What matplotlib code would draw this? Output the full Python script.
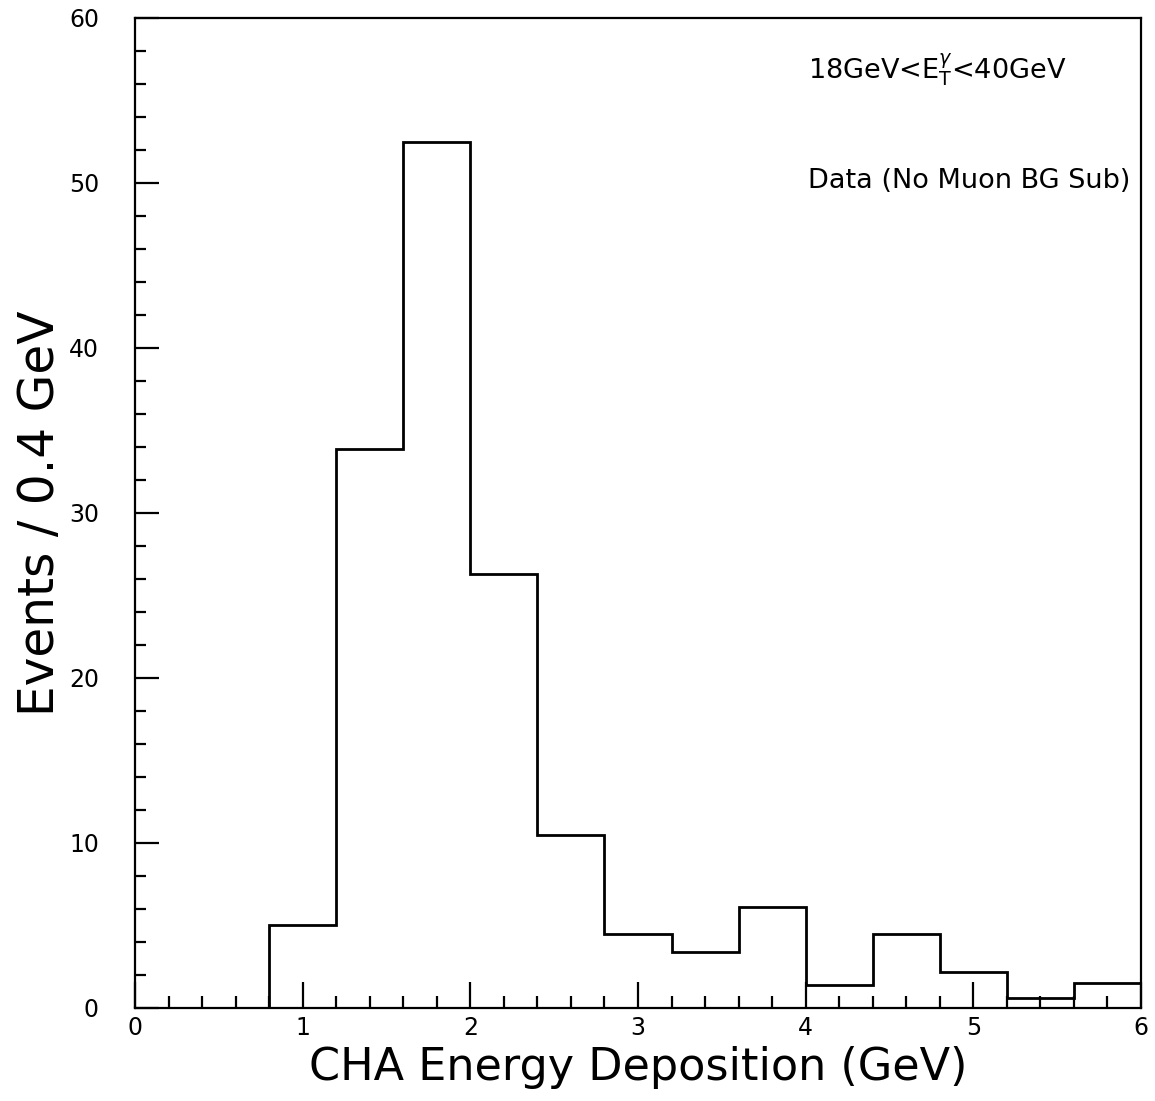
import numpy as np
import matplotlib.pyplot as plt
from matplotlib.ticker import MultipleLocator

# CHA energy deposition histogram, 0.4 GeV bins from 0 to 6 GeV
bin_edges = np.arange(0.0, 6.01, 0.4)
counts = [0, 0, 5.0, 33.9, 52.5, 26.3, 10.5, 4.5, 3.4, 6.1, 1.4, 4.5, 2.15, 0.6, 1.5]

x_label = "CHA Energy Deposition (GeV)"
y_label = "Events / 0.4 GeV"
et_range = r"18GeV<E$_{\mathsf{T}}^{\gamma}$<40GeV"
sample = "Data (No Muon BG Sub)"

plt.rcParams["font.family"] = "DejaVu Sans"
plt.rcParams["mathtext.fontset"] = "dejavusans"

fig = plt.figure(figsize=(11.55, 11.01), dpi=100)
ax = fig.add_axes([0.1169, 0.0845, 0.8710, 0.8992])

ax.stairs(counts, bin_edges, color="black", lw=2.0, baseline=None)

ax.set_xlim(0, 6)
ax.set_ylim(0, 60)
ax.xaxis.set_major_locator(MultipleLocator(1))
ax.xaxis.set_minor_locator(MultipleLocator(0.2))
ax.yaxis.set_major_locator(MultipleLocator(10))
ax.yaxis.set_minor_locator(MultipleLocator(2))
ax.tick_params(which="both", direction="in", width=1.6, labelsize=17)
ax.tick_params(axis="x", which="major", length=19, pad=6)
ax.tick_params(axis="x", which="minor", length=9)
ax.tick_params(axis="y", which="major", length=17, pad=26)
ax.tick_params(axis="y", which="minor", length=8)
for s in ax.spines.values():
    s.set_linewidth(1.6)

ax.set_xlabel(x_label, fontsize=32, labelpad=4)
ax.set_ylabel(y_label, fontsize=35, labelpad=3)

ax.text(0.669, 0.9465, et_range, transform=ax.transAxes, fontsize=19.5, va="center", ha="left")
ax.text(0.669, 0.835, sample, transform=ax.transAxes, fontsize=19.5, va="center", ha="left")

fig.savefig("out.png", dpi=100)
